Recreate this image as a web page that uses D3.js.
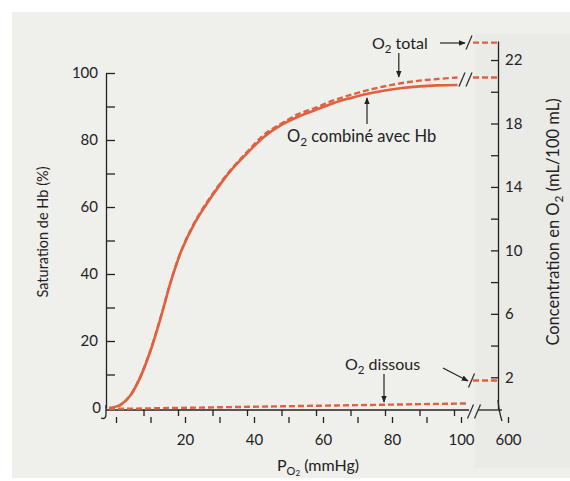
<!DOCTYPE html>
<html>
<head>
<meta charset="utf-8">
<script src="https://cdn.jsdelivr.net/npm/d3@7"></script>
<style>
body { margin: 0; background: #fff; }
text { font-family: Lato, "Open Sans", sans-serif; fill: #222; }
.axis path, .axis line { stroke: #222; stroke-width: 1.3; }
.axis text { font-family: Lato, "Open Sans", sans-serif; font-size: 15px; fill: #222; }
</style>
</head>
<body>
<script>
// PO2 (mmHg) where the curves were read
const po2 = [0, 3, 6, 9, 12, 15, 18, 21, 25, 30, 35, 40, 45, 50, 55, 60, 65, 70, 75, 80, 85, 90, 95, 101]
// O2 combiné avec Hb, saturation (%)
const hbSat = [0, 0.8, 3.5, 9, 17, 27, 38, 47, 55.5, 63.5, 70.5, 76, 81, 84.5, 87, 89, 91, 92.5, 93.8, 94.8, 95.5, 96, 96.3, 96.4]
// O2 total (mL/100 mL)
const o2Total = [0, 0.2, 0.8, 2.0, 3.7, 5.8, 8.1, 10.0, 11.85, 13.55, 15.0, 16.2, 17.3, 18.0, 18.6, 19.0, 19.45, 19.8, 20.1, 20.35, 20.55, 20.7, 20.8, 20.9]
// O2 dissous (mL/100 mL)
const dissousPo2 = [0, 50, 104]
const o2Dissous = [0, 0.17, 0.35]
// values after the axis break, at 600 mmHg (mL/100 mL)
const highPo2 = [600]
const highTotal = [23.1]
const highHb = [20.9]
const highDissous = [1.8]
// tick labels
const leftTickLabels = [0, 20, 40, 60, 80, 100]
const rightTickLabels = [2, 6, 10, 14, 18, 22]
const xTickLabels = [20, 40, 60, 80, 100]

const width = 570, height = 481
const red = "#e0603f"
const leftAxisX = 106, rightAxisX = 498, baseY = 410

const svg = d3.select("body")
    .append("svg")
    .attr("width", width)
    .attr("height", height)

// scanned paper
svg.append("rect").attr("width", width).attr("height", height).attr("fill", "#fff")
svg.append("rect").attr("x", 12).attr("y", 12).attr("width", 558).attr("height", 466).attr("fill", "#efefec")
svg.append("rect").attr("x", 475).attr("y", 34).attr("width", 95).attr("height", 434).attr("fill", "#eaeae7")

// arrow head
svg.append("defs").append("marker")
    .attr("id", "arrow")
    .attr("viewBox", "0 0 10 10")
    .attr("refX", 9).attr("refY", 5)
    .attr("markerWidth", 7).attr("markerHeight", 7)
    .attr("markerUnits", "userSpaceOnUse")
    .attr("orient", "auto")
  .append("path")
    .attr("d", "M0,1L10,5L0,9z")
    .attr("fill", "#222")

//Scales
const x = d3.scaleLinear().domain([0, 100]).range([109, 454])
const xHigh = d3.scaleLinear().domain([575, 600]).range([473, 500])
const yLeft = d3.scaleLinear().domain([0, 100]).range([408, 73])
const yRight = d3.scaleLinear().domain([0, 23.2]).range([409, 41])

//Left axis
svg.append("g")
    .attr("class", "axis")
    .attr("transform", "translate(" + leftAxisX + ",0)")
    .call(d3.axisLeft(yLeft)
        .tickValues(d3.range(10, 101, 10))
        .tickSizeInner(-9).tickSizeOuter(0).tickPadding(8)
        .tickFormat(d => leftTickLabels.includes(d) ? d : ""))
svg.append("text")
    .attr("x", leftAxisX - 5).attr("y", yLeft(0))
    .attr("dy", "0.35em")
    .attr("text-anchor", "end")
    .style("font-size", "15px")
    .text(leftTickLabels[0])
svg.append("path")
    .attr("d", "M106,405 L106,414 Q106,420 101,418")
    .attr("fill", "none").attr("stroke", "#222").attr("stroke-width", 1.3)

//Right axis
svg.append("g")
    .attr("class", "axis")
    .attr("transform", "translate(" + rightAxisX + ",0)")
    .call(d3.axisRight(yRight)
        .tickValues(d3.range(2, 23, 2))
        .tickSizeInner(-7).tickSizeOuter(0).tickPadding(7)
        .tickFormat(d => rightTickLabels.includes(d) ? d : ""))
svg.append("path")
    .attr("d", "M498,400 Q499,412 502,421")
    .attr("fill", "none").attr("stroke", "#222").attr("stroke-width", 1.3)

//Bottom axis line, with its break
svg.append("line").attr("x1", leftAxisX).attr("x2", 469).attr("y1", baseY).attr("y2", baseY)
    .attr("stroke", "#222").attr("stroke-width", 1.3)
svg.append("line").attr("x1", 478).attr("x2", 502).attr("y1", baseY).attr("y2", baseY)
    .attr("stroke", "#222").attr("stroke-width", 1.3)

//Ticks hanging from the axis
svg.append("g")
    .attr("class", "axis")
    .attr("transform", "translate(0," + baseY + ")")
    .call(d3.axisBottom(x).tickValues(d3.range(10, 101, 10)).tickSize(6).tickFormat(""))
    .select(".domain").remove()

//Second (offset) row of ticks with the labels
const xLab = svg.append("g")
    .attr("class", "axis")
    .attr("transform", "translate(7," + (baseY + 7) + ")")
xLab.call(d3.axisBottom(x).tickValues(d3.range(0, 101, 10)).tickSize(6).tickPadding(11)
        .tickFormat(d => xTickLabels.includes(d) ? d : ""))
    .select(".domain").remove()
const xLabHigh = svg.append("g")
    .attr("class", "axis")
    .attr("transform", "translate(8," + (baseY + 7) + ")")
xLabHigh.call(d3.axisBottom(xHigh).tickValues(highPo2).tickSize(6).tickPadding(11))
    .select(".domain").remove()

//Curves
const hbLine = d3.line()
    .x((d, i) => x(po2[i]))
    .y(d => yLeft(d))
    .curve(d3.curveCatmullRom.alpha(0.5))
const totalLine = d3.line()
    .x((d, i) => x(po2[i]))
    .y(d => yRight(d))
    .curve(d3.curveCatmullRom.alpha(0.5))
const dissousLine = d3.line()
    .x((d, i) => x(dissousPo2[i]))
    .y(d => yRight(d))

svg.append("path").datum(o2Total)
    .attr("d", totalLine)
    .attr("fill", "none").attr("stroke", red).attr("stroke-width", 2.4)
    .attr("stroke-dasharray", "6,3")
svg.append("path").datum(hbSat)
    .attr("d", hbLine)
    .attr("fill", "none").attr("stroke", red).attr("stroke-width", 2.6)
svg.append("path").datum(o2Dissous)
    .attr("d", dissousLine)
    .attr("fill", "none").attr("stroke", red).attr("stroke-width", 2.4)
    .attr("stroke-dasharray", "6,3")

//Segments after the break
const highSeg = d3.line().x(d => xHigh(d[0])).y(d => yRight(d[1]))
;[highTotal, highHb, highDissous].forEach(function(vals) {
    svg.append("path")
        .datum([[xHigh.domain()[0], vals[0]], [highPo2[0], vals[0]]])
        .attr("d", highSeg)
        .attr("fill", "none").attr("stroke", red).attr("stroke-width", 2.4)
        .attr("stroke-dasharray", "6,3")
})

//Break marks
function slash(cx, cy) {
    svg.append("line")
        .attr("x1", cx - 3).attr("y1", cy + 7)
        .attr("x2", cx + 3).attr("y2", cy - 7)
        .attr("stroke", "#333").attr("stroke-width", 1.3)
}
slash(469, yRight(highTotal[0]))
slash(462, yRight(highHb[0]) + 2)
slash(469, yRight(highHb[0]) + 2)
slash(471.5, yRight(highDissous[0]))
slash(470.5, baseY + 1.5)
slash(477.5, baseY + 1.5)

//Labels with a subscript 2
function subLabel(xp, yp, before, after, size) {
    const t = svg.append("text")
        .attr("x", xp).attr("y", yp)
        .style("font-size", size + "px")
    t.append("tspan").text(before)
    t.append("tspan").attr("dy", 4).style("font-size", (size * 0.72) + "px").text("2")
    t.append("tspan").attr("dy", -4).text(after)
    return t
}
subLabel(372, 49, "O", " total", 16)
subLabel(287, 142, "O", " combiné avec Hb", 16.5)
subLabel(345, 370, "O", " dissous", 16)

//x axis title
const xt = svg.append("text").attr("x", 277).attr("y", 471).style("font-size", "16px")
xt.append("tspan").text("P")
xt.append("tspan").attr("dy", 4).style("font-size", "11px").text("O")
xt.append("tspan").style("font-size", "8px").attr("dy", 1).text("2")
xt.append("tspan").attr("dy", -5).text(" (mmHg)")

//y axis titles
svg.append("text")
    .attr("transform", "translate(43,232) rotate(-90)")
    .attr("text-anchor", "middle")
    .attr("dy", "0.35em")
    .style("font-size", "14.5px")
    .text("Saturation de Hb (%)")
const yt = svg.append("text")
    .attr("transform", "translate(553,222) rotate(-90)")
    .attr("text-anchor", "middle")
    .attr("dy", "0.35em")
    .style("font-size", "16.5px")
yt.append("tspan").text("Concentration en O")
yt.append("tspan").attr("dy", 4).style("font-size", "12px").text("2")
yt.append("tspan").attr("dy", -4).text(" (mL/100 mL)")

//Arrows
function arrow(x1, y1, x2, y2) {
    svg.append("line")
        .attr("x1", x1).attr("y1", y1).attr("x2", x2).attr("y2", y2)
        .attr("stroke", "#222").attr("stroke-width", 1.2)
        .attr("marker-end", "url(#arrow)")
}
arrow(440, 43, 465, 43)
arrow(x(84), 53, x(84), 77)
arrow(367, 124, 367, 98)
arrow(384, 374, 384, 402)
arrow(443, 368, 468, 381)
</script>
</body>
</html>
